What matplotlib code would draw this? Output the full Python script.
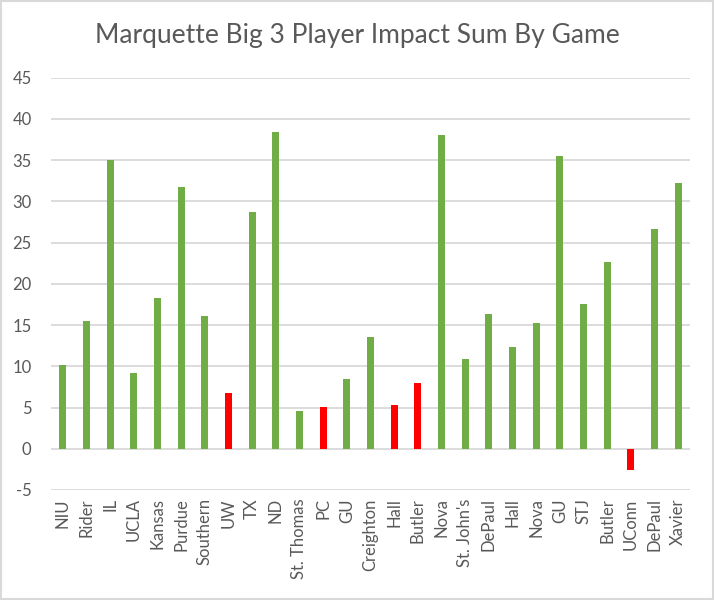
import matplotlib
matplotlib.use("Agg")
import matplotlib.pyplot as plt
from matplotlib.patches import Rectangle

games = ["NIU", "Rider", "IL", "UCLA", "Kansas", "Purdue", "Southern", "UW", "TX", "ND",
         "St. Thomas", "PC", "GU", "Creighton", "Hall", "Butler", "Nova", "St. John's",
         "DePaul", "Hall", "Nova", "GU", "STJ", "Butler", "UConn", "DePaul", "Xavier"]
impact = [10.2, 15.5, 35.0, 9.2, 18.3, 31.8, 16.1, 6.8, 28.7, 38.4,
          4.6, 5.1, 8.5, 13.6, 5.3, 8.0, 38.1, 10.9,
          16.3, 12.4, 15.3, 35.5, 17.6, 22.7, -2.55, 26.7, 32.2]
losses = [0, 0, 0, 0, 0, 0, 0, 1, 0, 0,
          0, 1, 0, 0, 1, 1, 0, 0,
          0, 0, 0, 0, 0, 0, 1, 0, 0]
yticks = [-5, 0, 5, 10, 15, 20, 25, 30, 35, 40, 45]

GREEN = "#70AD47"
RED = "#FF0000"
TEXT = "#595959"
GRID = "#D9D9D9"
FONT = "Lato"

fig = plt.figure(figsize=(7.14, 6.0), dpi=100)
ax = fig.add_axes([51/714, 110/600, (690-51)/714, (490-77.7)/600])

x = list(range(len(games)))
colors = [RED if l else GREEN for l in losses]
ax.bar(x, impact, width=0.3, color=colors, zorder=3)

ax.set_ylim(-5, 45)
ax.set_xlim(-0.5, len(games) - 0.5)
ax.set_yticks(yticks)
ax.set_yticklabels([str(t) for t in yticks], fontsize=12, color=TEXT, fontname=FONT)
ax.set_xticks(x)
ax.set_xticklabels(games, rotation=90, fontsize=12, color=TEXT, fontname=FONT)
ax.tick_params(axis="both", length=0)
ax.tick_params(axis="y", pad=14)
ax.tick_params(axis="x", pad=6)
ax.grid(axis="y", color=GRID, linewidth=1.3, zorder=0)
for s in ax.spines.values():
    s.set_visible(False)

fig.text(357/714, 1 - 36/600, "Marquette Big 3 Player Impact Sum By Game",
         ha="center", va="center", fontsize=19, color=TEXT, fontname=FONT)

fig.patches.append(Rectangle((0.002, 0.002), 0.996, 0.996, transform=fig.transFigure,
                             fill=False, edgecolor=GRID, linewidth=1.5))

fig.savefig("out.png", dpi=100)
